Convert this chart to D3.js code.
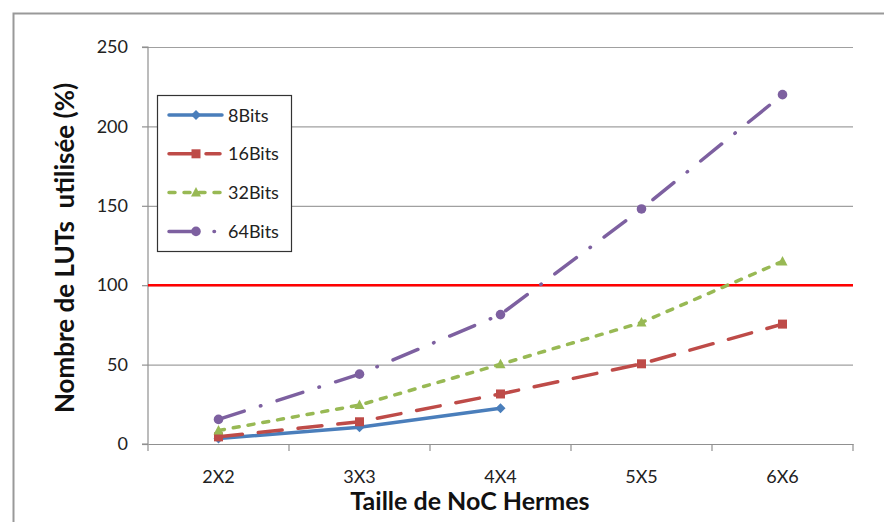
<!DOCTYPE html>
<html><head><meta charset="utf-8">
<script src="https://cdn.jsdelivr.net/npm/d3@7"></script>
<style>body{margin:0;background:#fff}svg{display:block}</style>
</head><body>
<svg id="c" width="884" height="522"></svg>
<script>
const categories = ["2X2","3X3","4X4","5X5","6X6"];
const s8  = [3.5, 10.5, 22.5, null, null];
const s16 = [4.5, 14, 31.5, 50.5, 75.5];
const s32 = [8.5, 24.5, 50.2, 76.5, 115];
const s64 = [15.5, 44, 81.5, 148, 220];
const seriesNames = ["8Bits","16Bits","32Bits","64Bits"];
const yTicks = [0,50,100,150,200,250];
const limit = 100;

const series = [
  {name: seriesNames[0], values: s8,  color:"#4a7ebb", dash:null, ldash:null, marker:"diamond"},
  {name: seriesNames[1], values: s16, color:"#be4b48", dash:"24,16", ldash:"28,9,14,40", marker:"square"},
  {name: seriesNames[2], values: s32, color:"#98b954", dash:"6,9", ldash:"6,9", marker:"triangle"},
  {name: seriesNames[3], values: s64, color:"#7d60a0", dash:"27,17,0.5,17", ldash:"28,17,0.5,40", marker:"circle"}
];

const svg = d3.select("#c");
const font = "Lato, 'Open Sans', sans-serif";
const m = {l:148, r:853, t:47, b:444};

// outer frame
svg.append("path").attr("d","M13.5,522 V13.5 H884").attr("fill","none").attr("stroke","#999").attr("stroke-width",2);

const x = d3.scaleBand().domain(categories).range([m.l, m.r]);
const y = d3.scaleLinear().domain([0,250]).range([m.b, m.t]);

// gridlines
svg.append("g").selectAll("line").data(yTicks.filter(d=>d>0)).join("line")
  .attr("x1", m.l).attr("x2", m.r).attr("y1", d=>y(d)+0.5).attr("y2", d=>y(d)+0.5)
  .attr("stroke","#a0a0a0").attr("stroke-width",1.2);

// y axis
const ya = svg.append("g").attr("transform",`translate(${m.l},0)`)
  .call(d3.axisLeft(y).tickValues(yTicks).tickSize(6).tickPadding(14));
ya.select(".domain").attr("stroke","#909090").attr("stroke-width",1.2).attr("d",`M-6,${m.t}H0V${m.b}H-6`);
ya.selectAll(".tick line").attr("stroke","#909090").attr("stroke-width",1.2);
ya.selectAll(".tick text").attr("font-family",font).attr("font-size",18).attr("fill","#222");

// x axis
const xa = svg.append("g").attr("transform",`translate(0,${m.b})`)
  .call(d3.axisBottom(x).tickSize(0).tickPadding(26));
xa.select(".domain").attr("stroke","#909090").attr("stroke-width",1.2);
xa.selectAll(".tick text").attr("font-family",font).attr("font-size",18).attr("fill","#222");
const bounds = categories.map(c=>x(c)).concat([m.r]);
svg.append("g").selectAll("line").data(bounds).join("line")
  .attr("x1",d=>d).attr("x2",d=>d).attr("y1",m.b).attr("y2",m.b+7)
  .attr("stroke","#909090").attr("stroke-width",1.2);

// limit line
svg.append("line").attr("x1",m.l).attr("x2",m.r).attr("y1",y(limit)).attr("y2",y(limit))
  .attr("stroke","#ff0000").attr("stroke-width",2.5);

const cx = c => x(c) + x.bandwidth()/2;
const line = d3.line().defined(d=>d.v!=null).x(d=>cx(d.c)).y(d=>y(d.v));

function drawMarker(g, type, px, py, color){
  if(type==="diamond") g.append("path").attr("d",`M${px},${py-5}L${px+5},${py}L${px},${py+5}L${px-5},${py}Z`).attr("fill",color);
  else if(type==="square") g.append("rect").attr("x",px-4.5).attr("y",py-4.5).attr("width",9).attr("height",9).attr("fill",color);
  else if(type==="triangle") g.append("path").attr("d",`M${px},${py-5.5}L${px+5},${py+4}L${px-5},${py+4}Z`).attr("fill",color);
  else g.append("circle").attr("cx",px).attr("cy",py).attr("r",4.8).attr("fill",color);
}

series.forEach(s=>{
  const pts = categories.map((c,i)=>({c, v:s.values[i]}));
  svg.append("path").datum(pts).attr("d",line).attr("fill","none")
    .attr("stroke",s.color).attr("stroke-width",3.5).attr("stroke-linecap","round")
    .attr("stroke-dasharray",s.dash);
  const g = svg.append("g");
  pts.filter(d=>d.v!=null).forEach(d=>drawMarker(g, s.marker, cx(d.c), y(d.v), s.color));
});

// legend
const lg = svg.append("g");
lg.append("rect").attr("x",157.5).attr("y",95.5).attr("width",134).attr("height",156)
  .attr("fill","#fff").attr("stroke","#333").attr("stroke-width",1.2);
series.forEach((s,i)=>{
  const ly = 115 + i*38.8;
  lg.append("line").attr("x1",169).attr("x2",222).attr("y1",ly).attr("y2",ly)
    .attr("stroke",s.color).attr("stroke-width",3.5).attr("stroke-linecap","round")
    .attr("stroke-dasharray",s.ldash);
  drawMarker(lg, s.marker, 196, ly, s.color);
  lg.append("text").attr("x",228).attr("y",ly+6.5).text(s.name)
    .attr("font-family",font).attr("font-size",18).attr("fill","#222");
});

// axis titles
svg.append("text").attr("transform",`translate(74,${248}) rotate(-90)`).attr("text-anchor","middle")
  .attr("font-family",font).attr("font-weight","bold").attr("font-size",26).attr("fill","#111")
  .attr("xml:space","preserve").text("Nombre de LUTs  utilisée (%)");
svg.append("text").attr("x",470).attr("y",510).attr("text-anchor","middle")
  .attr("font-family",font).attr("font-weight","bold").attr("font-size",25).attr("fill","#111")
  .text("Taille de NoC Hermes");
</script>
</body></html>
